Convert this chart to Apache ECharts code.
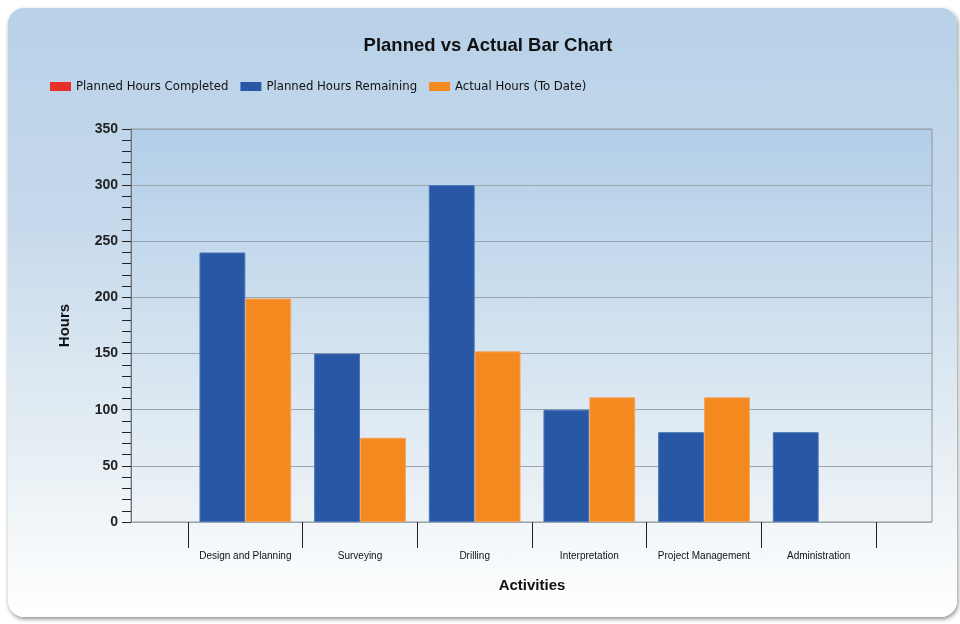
<!DOCTYPE html>
<html>
<head>
<meta charset="utf-8">
<script src="https://cdn.jsdelivr.net/npm/echarts@6/dist/echarts.min.js"></script>
<style>
html,body{margin:0;padding:0;background:#ffffff;}
#panel{position:absolute;left:8px;top:8px;width:949px;height:609px;border-radius:16px;
background:linear-gradient(to bottom,#b8d1e8 0%,#c6d9ec 35%,#e4edf3 70%,#ffffff 100%);
box-shadow:1px 2px 4px rgba(0,0,0,0.45);}
#chart{position:absolute;left:0;top:0;width:960px;height:624px;}
</style>
</head>
<body>
<div id="panel"></div>
<div id="chart"></div>
<script>
const categories = ['Design and Planning','Surveying','Drilling','Interpretation','Project Management','Administration'];
const plannedCompleted = [0, 0, 0, 0, 0, 0];
const plannedRemaining = [240, 150, 300, 100, 80, 80];
const actualToDate = [199, 75, 152, 111, 111, 0];
const yMin = 0, yMax = 350, yStep = 50;

const hideZero = arr => arr.map(v => v === 0 ? '-' : v);

const chart = echarts.init(document.getElementById('chart'), null, {renderer:'canvas'});
const font = 'Liberation Sans, Arial, sans-serif';
chart.setOption({
  backgroundColor: 'transparent',
  animation: false,
  title: {
    text: 'Planned vs Actual Bar Chart',
    left: 483, top: 31, textAlign: 'center',
    textStyle: {fontFamily: font, fontSize: 18.5, fontWeight: 'bold', color: '#111'}
  },
  legend: {
    left: 45, top: 75, itemWidth: 21, itemHeight: 9, itemGap: 12,
    icon: 'rect',
    itemStyle: {borderWidth: 0},
    textStyle: {fontFamily: 'DejaVu Sans Condensed, DejaVu Sans, sans-serif', fontSize: 13, color: '#111'},
    data: ['Planned Hours Completed','Planned Hours Remaining','Actual Hours (To Date)']
  },
  grid: [
    {left: 131, right: 28, top: 129, bottom: 102, show: true, borderColor: '#8d969f', borderWidth: 1,
     backgroundColor: {type:'linear', x:0, y:0, x2:0, y2:1,
       colorStops:[{offset:0,color:'#b2cee8'},{offset:1,color:'#eef3f6'}]}},
    {left: 188, right: 84, top: 129, bottom: 102}
  ],
  xAxis: [
    {type: 'value', gridIndex: 0, show: false, min: 0, max: 1},
    {type: 'category', gridIndex: 1, data: categories,
     axisLine: {show: false},
     axisTick: {show: true, length: 26, lineStyle: {color: '#222'}},
     axisLabel: {margin: 29, fontSize: 10, color: '#111', fontFamily: font, interval: 0},
     name: 'Activities', nameLocation: 'middle', nameGap: 56,
     nameTextStyle: {fontFamily: font, fontSize: 15, fontWeight: 'bold', color: '#111'}}
  ],
  yAxis: [
    {type: 'value', gridIndex: 0, min: yMin, max: yMax, interval: yStep,
     axisLine: {show: true, lineStyle: {color: '#6b737b'}},
     axisTick: {show: true, length: 9, lineStyle: {color: '#222'}},
     minorTick: {show: true, splitNumber: 5, length: 9, lineStyle: {color: '#222'}},
     axisLabel: {margin: 13, fontSize: 14, fontWeight: 'bold', color: '#222', fontFamily: font},
     splitLine: {show: true, lineStyle: {color: '#9ba5ad', width: 1}},
     name: 'Hours', nameLocation: 'middle', nameGap: 59, nameRotate: 90,
     nameTextStyle: {fontFamily: font, fontSize: 15, fontWeight: 'bold', color: '#111'}},
    {type: 'value', gridIndex: 1, min: yMin, max: yMax, interval: yStep, show: false,
     splitLine: {show: false}}
  ],
  series: [
    {name: 'Planned Hours Completed', type: 'bar', xAxisIndex: 1, yAxisIndex: 1, stack: 'planned',
     data: hideZero(plannedCompleted), barCategoryGap: '20%', barGap: '0%',
     itemStyle: {color: '#e8302a'}},
    {name: 'Planned Hours Remaining', type: 'bar', xAxisIndex: 1, yAxisIndex: 1, stack: 'planned',
     data: plannedRemaining, barCategoryGap: '20%', barGap: '0%',
     itemStyle: {color: '#2757a5', borderColor: '#4a76b6', borderWidth: 1}},
    {name: 'Actual Hours (To Date)', type: 'bar', xAxisIndex: 1, yAxisIndex: 1,
     data: hideZero(actualToDate), barCategoryGap: '20%', barGap: '0%',
     itemStyle: {color: '#f3891f', borderColor: '#f6a35a', borderWidth: 1}}
  ]
});
</script>
</body>
</html>
